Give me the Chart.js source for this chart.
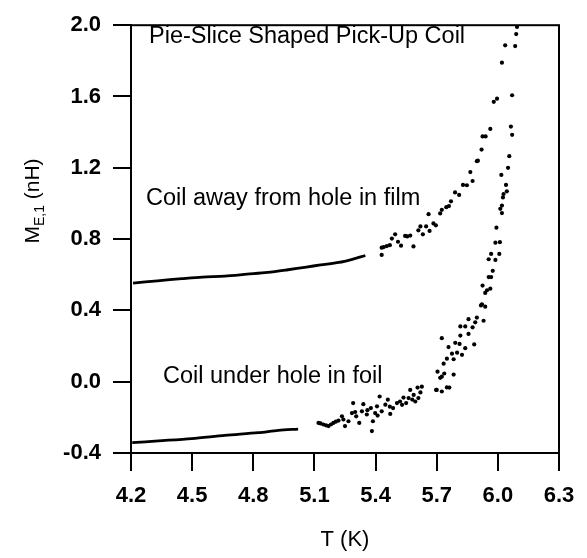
<!DOCTYPE html>
<html>
<head>
<meta charset="utf-8">
<script src="https://cdn.jsdelivr.net/npm/chart.js@4.4.1/dist/chart.umd.min.js"></script>
<style>
  html, body { margin: 0; padding: 0; background: #fff; }
  #wrap { width: 587px; height: 558px; }
</style>
</head>
<body>
<div id="wrap"><canvas id="chart" width="587" height="558"></canvas></div>
<script>
// tick values
const xTicks = [4.2, 4.5, 4.8, 5.1, 5.4, 5.7, 6.0, 6.3];
const yTicks = [-0.4, 0.0, 0.4, 0.8, 1.2, 1.6, 2.0];

// coil away from hole in film: dense low-T part [T (K), M (nH)]
const filmSmooth = [
    [4.21, 0.553], [4.33, 0.566], [4.45, 0.578], [4.55, 0.587], [4.66, 0.592],
    [4.77, 0.603], [4.87, 0.613], [4.97, 0.628], [5.06, 0.643], [5.13, 0.655],
    [5.22, 0.669], [5.29, 0.688], [5.35, 0.708]
];
// coil away from hole in film: scattered part near Tc
const filmScatter = [
    [5.43, 0.711], [5.43, 0.752], [5.44, 0.755], [5.455, 0.761], [5.47, 0.766], [5.48, 0.803],
    [5.496, 0.827], [5.51, 0.785], [5.525, 0.763], [5.545, 0.818], [5.555, 0.815], [5.57, 0.820],
    [5.586, 0.759], [5.61, 0.849], [5.62, 0.871], [5.632, 0.827], [5.648, 0.871],
    [5.66, 0.940], [5.665, 0.846], [5.684, 0.888], [5.696, 0.877], [5.717, 0.944],
    [5.725, 0.964], [5.747, 0.979], [5.76, 0.985], [5.77, 1.012], [5.79, 1.062],
    [5.81, 1.048], [5.829, 1.104], [5.848, 1.102], [5.865, 1.176], [5.876, 1.126],
    [5.897, 1.237], [5.902, 1.240], [5.92, 1.302], [5.925, 1.376], [5.94, 1.376],
    [5.963, 1.418], [5.98, 1.570], [5.996, 1.588], [6.02, 1.790], [6.036, 1.887]
];

// coil under hole in foil: dense low-T part
const foilSmooth = [
    [4.206, -0.342], [4.334, -0.332], [4.498, -0.319], [4.661, -0.301],
    [4.825, -0.286], [4.923, -0.273], [5.02, -0.266]
];
// coil under hole in foil: scattered part
const foilScatter = [
    [5.12, -0.231], [5.13, -0.234], [5.144, -0.240], [5.157, -0.245], [5.169, -0.249],
    [5.181, -0.240], [5.193, -0.231], [5.205, -0.224], [5.218, -0.218], [5.235, -0.194],
    [5.25, -0.249], [5.242, -0.212], [5.267, -0.222], [5.284, -0.176], [5.29, -0.120],
    [5.305, -0.194], [5.32, -0.231], [5.333, -0.166], [5.34, -0.126], [5.357, -0.184],
    [5.377, -0.148], [5.382, -0.277], [5.387, -0.222], [5.398, -0.176], [5.42, -0.083],
    [5.407, -0.138], [5.43, -0.166], [5.448, -0.129], [5.46, -0.101], [5.472, -0.181],
    [5.486, -0.148], [5.505, -0.120], [5.52, -0.111], [5.537, -0.089], [5.55, -0.120],
    [5.562, -0.092], [5.57, -0.046], [5.587, -0.074], [5.595, -0.111], [5.606, -0.033],
    [5.61, -0.092], [5.627, -0.028], [5.30, -0.170], [5.36, -0.160], [5.41, -0.190],
    [5.47, -0.140], [5.53, -0.130], [5.58, -0.100], [5.62, -0.060],
    [5.697, -0.046], [5.70, -0.046], [5.725, -0.055], [5.75, -0.032], [5.762, -0.033],
    [5.717, 0.022], [5.725, 0.028], [5.704, 0.056], [5.737, 0.046], [5.783, 0.040],
    [5.734, 0.101], [5.75, 0.129], [5.783, 0.126], [5.775, 0.157], [5.80, 0.163],
    [5.824, 0.151], [5.758, 0.194], [5.84, 0.188], [5.884, 0.209], [5.791, 0.218],
    [5.812, 0.212], [5.725, 0.244], [5.816, 0.259], [5.856, 0.268], [5.816, 0.310],
    [5.84, 0.310], [5.876, 0.305], [5.889, 0.333], [5.856, 0.351], [5.93, 0.342],
    [5.897, 0.360], [5.917, 0.428], [5.938, 0.421], [5.922, 0.434], [5.938, 0.498],
    [5.947, 0.513], [5.963, 0.522], [5.925, 0.539], [5.955, 0.587], [5.967, 0.587],
    [5.975, 0.622], [5.955, 0.687], [5.988, 0.683], [5.967, 0.717], [6.007, 0.717],
    [5.988, 0.780], [6.01, 0.783], [5.993, 0.864], [6.02, 0.946], [6.012, 0.970],
    [6.02, 0.988], [6.025, 1.034], [6.028, 1.053], [6.044, 1.068], [6.04, 1.104],
    [6.017, 1.160], [6.05, 1.200], [6.056, 1.265], [6.064, 1.431], [6.07, 1.385],
    [6.07, 1.607], [6.085, 1.883], [6.09, 1.950], [6.094, 1.990]
];

const toXY = arr => arr.map(p => ({ x: p[0], y: p[1] }));

const notes = [
    { text: 'Pie-Slice Shaped Pick-Up Coil', x: 149, y: 43 },
    { text: 'Coil away from hole in film', x: 146, y: 205 },
    { text: 'Coil under hole in foil', x: 163, y: 383 }
];

const FONT = '"Liberation Sans", Arial, sans-serif';

const extras = {
    id: 'extras',
    afterDraw(chart) {
        const ctx = chart.ctx;
        const a = chart.chartArea;
        ctx.save();
        // frame
        ctx.strokeStyle = '#000';
        ctx.lineWidth = 2;
        ctx.strokeRect(a.left, a.top, a.right - a.left, a.bottom - a.top);
        // labels inside the plot
        ctx.fillStyle = '#000';
        ctx.font = '23.5px ' + FONT;
        ctx.textBaseline = 'alphabetic';
        ctx.textAlign = 'left';
        notes.forEach(n => ctx.fillText(n.text, n.x, n.y));
        // y title with subscript
        ctx.translate(39, 201);
        ctx.rotate(-Math.PI / 2);
        const big = '21px ' + FONT, small = '14px ' + FONT;
        ctx.font = big;
        const wM = ctx.measureText('M').width;
        const wRest = ctx.measureText(' (nH)').width;
        ctx.font = small;
        const wSub = ctx.measureText('E,1').width;
        let x = -(wM + wSub + wRest) / 2;
        ctx.font = big;
        ctx.fillText('M', x, 0);
        x += wM;
        ctx.font = small;
        ctx.fillText('E,1', x, 5);
        x += wSub;
        ctx.font = big;
        ctx.fillText(' (nH)', x, 0);
        ctx.restore();
    }
};

const dotStyle = {
    showLine: false,
    pointRadius: 2.1,
    pointHoverRadius: 2.1,
    pointBackgroundColor: '#000',
    pointBorderWidth: 0
};
const lineStyle = {
    showLine: true,
    borderColor: '#000',
    borderWidth: 2.8,
    pointRadius: 0,
    tension: 0.3
};

new Chart(document.getElementById('chart'), {
    type: 'scatter',
    data: {
        datasets: [
            Object.assign({ label: 'film', data: toXY(filmSmooth) }, lineStyle),
            Object.assign({ label: 'film', data: toXY(filmScatter) }, dotStyle),
            Object.assign({ label: 'foil', data: toXY(foilSmooth) }, lineStyle),
            Object.assign({ label: 'foil', data: toXY(foilScatter) }, dotStyle)
        ]
    },
    options: {
        responsive: false,
        animation: false,
        layout: { padding: { left: 0, right: 28, top: 19, bottom: 0 } },
        plugins: {
            legend: { display: false },
            tooltip: { enabled: false }
        },
        scales: {
            x: {
                type: 'linear',
                min: 4.2,
                max: 6.3,
                afterBuildTicks: s => { s.ticks = xTicks.map(v => ({ value: v })); },
                afterFit: s => { s.height = 105; },
                grid: { drawOnChartArea: false, tickLength: 18, color: '#000', lineWidth: 2 },
                border: { color: '#000', width: 2 },
                ticks: {
                    color: '#000',
                    font: { family: FONT, size: 22, weight: 'bold' },
                    padding: 12,
                    maxRotation: 0,
                    autoSkip: false,
                    callback: v => v.toFixed(1)
                },
                title: {
                    display: true,
                    text: 'T (K)',
                    color: '#000',
                    font: { family: FONT, size: 22 },
                    padding: { top: 0, bottom: 5 }
                }
            },
            y: {
                type: 'linear',
                min: -0.4,
                max: 2.0,
                afterBuildTicks: s => { s.ticks = yTicks.map(v => ({ value: v })); },
                afterFit: s => { s.width = 131; },
                grid: { drawOnChartArea: false, tickLength: 18, color: '#000', lineWidth: 2 },
                border: { color: '#000', width: 2 },
                ticks: {
                    color: '#000',
                    font: { family: FONT, size: 22, weight: 'bold' },
                    padding: 12,
                    autoSkip: false,
                    callback: v => v.toFixed(1)
                }
            }
        }
    },
    plugins: [extras]
});
</script>
</body>
</html>
